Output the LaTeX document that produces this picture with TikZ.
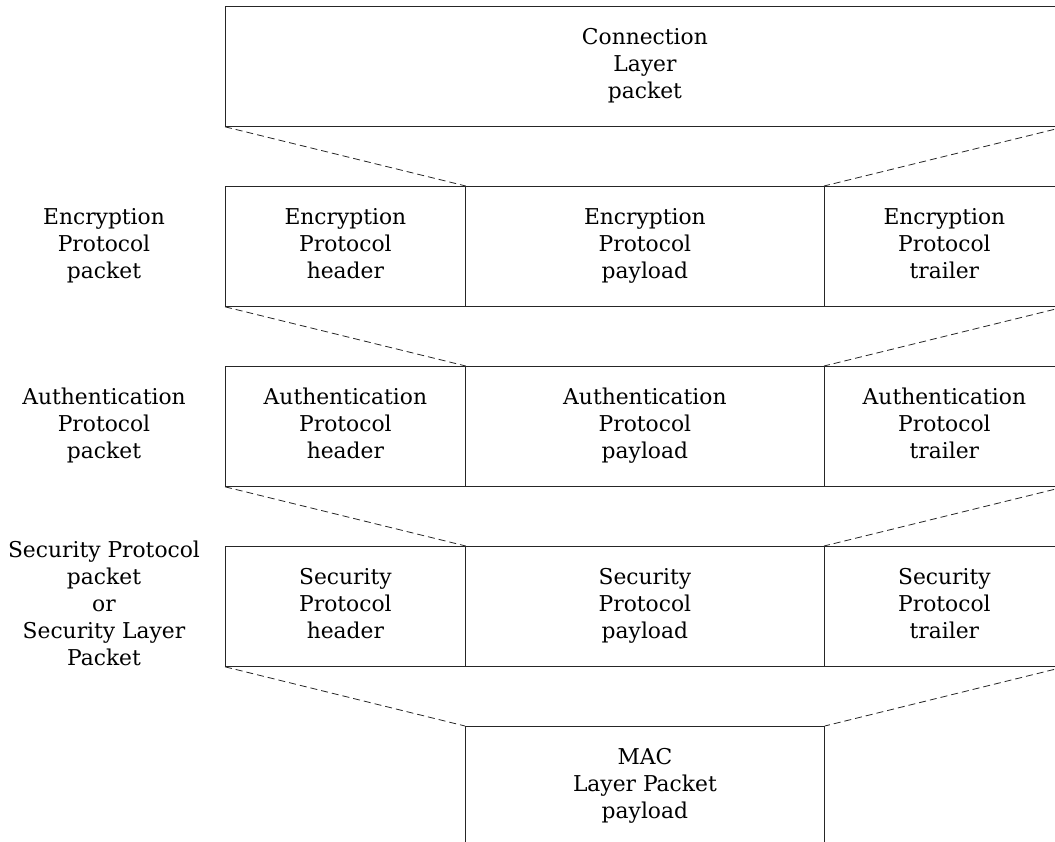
\documentclass[tikz,border=0pt]{standalone}
\usepackage{fontspec}
\setmainfont{DejaVu Serif}
\newcommand{\mystrut}{\rule[-6pt]{0pt}{30pt}}
\begin{document}
\begin{tikzpicture}[x=1pt,y=-1pt,
  cell/.style={draw=black!85,line width=0.8pt,rectangle,anchor=north west,inner sep=0pt,
    minimum height=120pt,align=center,font=\fontsize{21.8}{27}\selectfont,
    execute at begin node=\mystrut,execute at end node=\mystrut},
  lbl/.style={align=center,inner sep=0pt,font=\fontsize{21.8}{27}\selectfont,
    execute at begin node=\mystrut,execute at end node=\mystrut},
  fan/.style={draw=black!85,line width=0.8pt,dash pattern=on 7pt off 4pt}]
\useasboundingbox (0,0) rectangle (1055,842);
\clip (0,0) rectangle (1055,842);
% top box
\node[cell,minimum width=839pt] (top) at (225,6) {Connection\\Layer\\packet};
% row 1
\node[cell,minimum width=240pt] (h1) at (225,186) {Encryption\\Protocol\\header};
\node[cell,minimum width=359pt] (p1) at (465,186) {Encryption\\Protocol\\payload};
\node[cell,minimum width=240pt] (t1) at (824,186) {Encryption\\Protocol\\trailer};
% row 2
\node[cell,minimum width=240pt] (h2) at (225,366) {Authentication\\Protocol\\header};
\node[cell,minimum width=359pt] (p2) at (465,366) {Authentication\\Protocol\\payload};
\node[cell,minimum width=240pt] (t2) at (824,366) {Authentication\\Protocol\\trailer};
% row 3
\node[cell,minimum width=240pt] (h3) at (225,546) {Security\\Protocol\\header};
\node[cell,minimum width=359pt] (p3) at (465,546) {Security\\Protocol\\payload};
\node[cell,minimum width=240pt] (t3) at (824,546) {Security\\Protocol\\trailer};
% bottom
\node[cell,minimum width=359pt] (mac) at (465,726) {MAC\\Layer Packet\\payload};
% left labels
\node[lbl] (l1) at (104,246) {Encryption\\Protocol\\packet};
\node[lbl] (l2) at (104,426) {Authentication\\Protocol\\packet};
\node[lbl] (l3) at (104,606) {Security Protocol\\packet\\or\\Security Layer\\Packet};
% fan lines
\draw[fan] (top.south west) -- (h1.north east);
\draw[fan] (top.south east) -- (t1.north west);
\draw[fan] (h1.south west) -- (h2.north east);
\draw[fan] (t1.south east) -- (t2.north west);
\draw[fan] (h2.south west) -- (h3.north east);
\draw[fan] (t2.south east) -- (t3.north west);
\draw[fan] (h3.south west) -- (mac.north west);
\draw[fan] (t3.south east) -- (mac.north east);
\end{tikzpicture}
\end{document}
